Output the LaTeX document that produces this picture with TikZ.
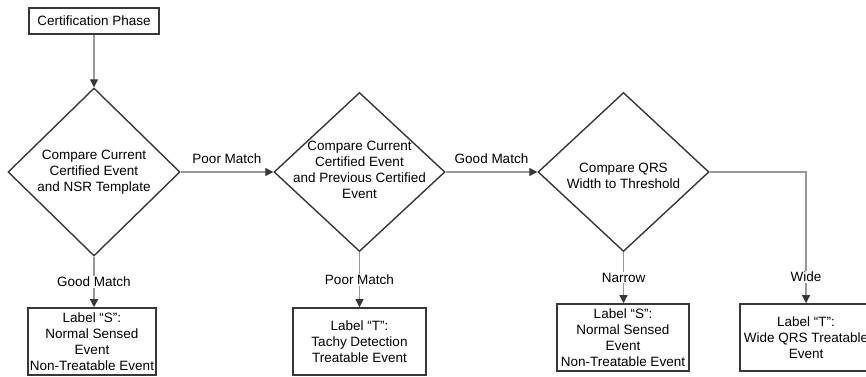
\documentclass[tikz,border=0pt]{standalone}
\usepackage{fontspec}
\setmainfont{Liberation Sans}
\usepackage{tikz}
\usetikzlibrary{arrows.meta}
\usetikzlibrary{shapes.geometric}
\definecolor{mgray}{rgb}{0.6, 0.6, 0.6}
\definecolor{mdark}{rgb}{0.22, 0.22, 0.22}
\tikzset{stepbox/.style = {draw=mdark, line width=1.6pt, inner sep=0pt,
                           align=center, font=\fontsize{13.5}{16}\selectfont},
         decision/.style = {diamond, draw=mdark, line width=1.4pt, inner sep=0pt},
         decisiontext/.style = {align=center, font=\fontsize{13.5}{16}\selectfont},
         flow/.style = {draw=mgray, line width=1.3pt,
                        -{Triangle[length=8pt, width=8pt, color=mdark]}},
         flowlabel/.style = {fill=white, inner sep=1pt, font=\fontsize{13.5}{16}\selectfont}}

\begin{document}
\begin{tikzpicture}[x=1pt, y=1pt]
    \clip (0, 0) rectangle (866, 376);

    \node [stepbox, minimum width=130pt, minimum height=26pt] (start) at (94, 355) {Certification Phase};

    \node [decision, minimum width=172pt, minimum height=168pt,
           label={[decisiontext]center:Compare Current\\Certified Event\\and NSR Template}] (nsr) at (94, 204) {};
    \node [decision, minimum width=171pt, minimum height=159pt,
           label={[decisiontext, yshift=2pt]center:Compare Current\\Certified Event\\and Previous Certified\\Event}] (prev) at (359.5, 204) {};
    \node [decision, minimum width=171pt, minimum height=159pt,
           label={[decisiontext, yshift=-4pt]center:Compare QRS\\Width to Threshold}] (qrs) at (623.5, 204) {};

    \node [stepbox, minimum width=128pt, minimum height=67pt] (normA) at (92, 34.5) {Label ``S'':\\Normal Sensed\\Event\\Non-Treatable Event};
    \node [stepbox, minimum width=133pt, minimum height=67pt] (tachy) at (359.5, 34.5) {Label ``T'':\\Tachy Detection\\Treatable Event};
    \node [stepbox, minimum width=132pt, minimum height=67pt] (normB) at (623, 38.5) {Label ``S'':\\Normal Sensed\\Event\\Non-Treatable Event};
    \node [stepbox, minimum width=132pt, minimum height=67pt] (wide) at (806, 38.5) {Label ``T'':\\Wide QRS Treatable\\Event};

    \draw [flow] (start) -- (nsr.north);
    \draw [flow] (nsr.east) -- node [flowlabel, above=7pt] {Poor Match} (prev.west);
    \draw [flow] (prev.east) -- node [flowlabel, above=7pt] {Good Match} (qrs.west);

    \draw [flow] (nsr.south) -- node [flowlabel] {Good Match} (nsr.south |- normA.north);
    \draw [flow] (prev.south) -- node [flowlabel] {Poor Match} (prev.south |- tachy.north);
    \draw [flow] (qrs.south) -- node [flowlabel] {Narrow} (qrs.south |- normB.north);
    \draw [flow] (qrs.east) -| node [flowlabel, pos=0.9] {Wide} (wide.north);
  \end{tikzpicture}
\end{document}
